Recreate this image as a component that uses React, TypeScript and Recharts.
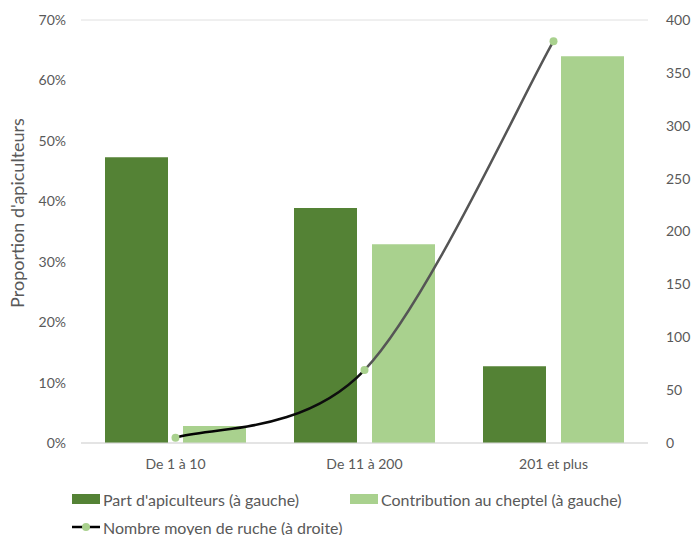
import React from "react";
import { ComposedChart, Bar, Line, XAxis, YAxis, CartesianGrid } from "recharts";

const categories = ["De 1 à 10", "De 11 à 200", "201 et plus"];
const partApiculteurs = [47.3, 38.9, 12.7];
const contributionCheptel = [2.8, 32.9, 64.0];
const nombreMoyenRuches = [5, 69, 380];
const leftTicks = [0, 10, 20, 30, 40, 50, 60, 70];
const rightTicks = [0, 50, 100, 150, 200, 250, 300, 350, 400];

const seriesNames = {
  part: "Part d'apiculteurs (à gauche)",
  contrib: "Contribution au cheptel (à gauche)",
  ruches: "Nombre moyen de ruche (à droite)",
};

const DARK = "#548235";
const LIGHT = "#A9D18E";
const TEXT = "#595959";
const FONT = "Lato, 'Open Sans', sans-serif";

const data = categories.map((c, i) => ({
  name: c,
  part: partApiculteurs[i],
  contrib: contributionCheptel[i],
  ruches: nombreMoyenRuches[i],
}));

// Spreadsheet-style smoothed curve (cardinal Bezier, 1/6 tangents)
const smoothCurve: any = (context: any) => {
  let pts: number[][] = [];
  return {
    areaStart() {},
    areaEnd() {},
    lineStart() {
      pts = [];
    },
    point(x: number, y: number) {
      pts.push([+x, +y]);
    },
    lineEnd() {
      const n = pts.length;
      if (!n) return;
      context.moveTo(pts[0][0], pts[0][1]);
      for (let i = 0; i < n - 1; i++) {
        const p0 = pts[Math.max(i - 1, 0)];
        const p1 = pts[i];
        const p2 = pts[i + 1];
        const p3 = pts[Math.min(i + 2, n - 1)];
        context.bezierCurveTo(
          p1[0] + (p2[0] - p0[0]) / 6,
          p1[1] + (p2[1] - p0[1]) / 6,
          p2[0] - (p3[0] - p1[0]) / 6,
          p2[1] - (p3[1] - p1[1]) / 6,
          p2[0],
          p2[1]
        );
      }
    },
  };
};

export default function App() {
  return (
    <div style={{ position: "absolute", left: 0, top: 0, width: 693, height: 535, background: "#fff", fontFamily: FONT }}>
      <ComposedChart
        width={693}
        height={535}
        data={data}
        margin={{ top: 20, right: 0, bottom: 62, left: 0 }}
        barSize={63}
        barGap={15}
      >
        <defs>
          <linearGradient id="lineGrad" x1="0" y1="0" x2="1" y2="0">
            <stop offset="0%" stopColor="#000000" />
            <stop offset="50%" stopColor="#111111" />
            <stop offset="50%" stopColor="#555555" />
            <stop offset="100%" stopColor="#555555" />
          </linearGradient>
        </defs>
        <CartesianGrid vertical={false} stroke="#e0e0e0" />
        <XAxis
          dataKey="name"
          axisLine={{ stroke: "#d9d9d9" }}
          tickLine={false}
          tickSize={0}
          tickMargin={16}
          height={30}
          tick={{ fill: TEXT, fontSize: 14, fontFamily: FONT }}
        />
        <YAxis
          yAxisId="left"
          domain={[0, 70]}
          ticks={leftTicks}
          tickFormatter={(v: number) => `${v}%`}
          axisLine={false}
          tickLine={false}
          tickSize={0}
          tickMargin={15}
          width={81}
          tick={{ fill: TEXT, fontSize: 14, fontFamily: FONT }}
          label={() => {
            const cy = 213;
            return (
              <text
                x={24}
                y={cy}
                transform={`rotate(-90, 24, ${cy})`}
                textAnchor="middle"
                fill={TEXT}
                fontSize={18}
                fontFamily={FONT}
              >
                Proportion d'apiculteurs
              </text>
            );
          }}
        />
        <YAxis
          yAxisId="right"
          orientation="right"
          domain={[0, 400]}
          ticks={rightTicks}
          axisLine={false}
          tickLine={false}
          tickSize={0}
          tickMargin={18}
          width={45}
          tick={{ fill: TEXT, fontSize: 14, fontFamily: FONT, textAnchor: "start" }}
        />
        <Bar yAxisId="left" dataKey="part" name={seriesNames.part} fill={DARK} isAnimationActive={false} />
        <Bar yAxisId="left" dataKey="contrib" name={seriesNames.contrib} fill={LIGHT} isAnimationActive={false} />
        <Line
          yAxisId="right"
          type={smoothCurve}
          dataKey="ruches"
          name={seriesNames.ruches}
          stroke="url(#lineGrad)"
          strokeWidth={2.5}
          dot={{ r: 4, fill: LIGHT, stroke: "none" }}
          isAnimationActive={false}
        />
      </ComposedChart>
      <div style={{ position: "absolute", left: 72, top: 488, color: TEXT, fontSize: 16, display: "flex", alignItems: "center", height: 22 }}>
        <span style={{ display: "inline-block", width: 28, height: 10, background: DARK, marginRight: 3 }} />
        <span>{seriesNames.part}</span>
      </div>
      <div style={{ position: "absolute", left: 350, top: 488, color: TEXT, fontSize: 16, display: "flex", alignItems: "center", height: 22 }}>
        <span style={{ display: "inline-block", width: 28, height: 10, background: LIGHT, marginRight: 3 }} />
        <span>{seriesNames.contrib}</span>
      </div>
      <div style={{ position: "absolute", left: 72, top: 516, color: TEXT, fontSize: 16, display: "flex", alignItems: "center", height: 22 }}>
        <svg width={28} height={10} style={{ marginRight: 3 }}>
          <line x1={0} y1={5} x2={28} y2={5} stroke="#000" strokeWidth={2.5} />
          <circle cx={14} cy={5} r={4} fill={LIGHT} />
        </svg>
        <span>{seriesNames.ruches}</span>
      </div>
    </div>
  );
}
